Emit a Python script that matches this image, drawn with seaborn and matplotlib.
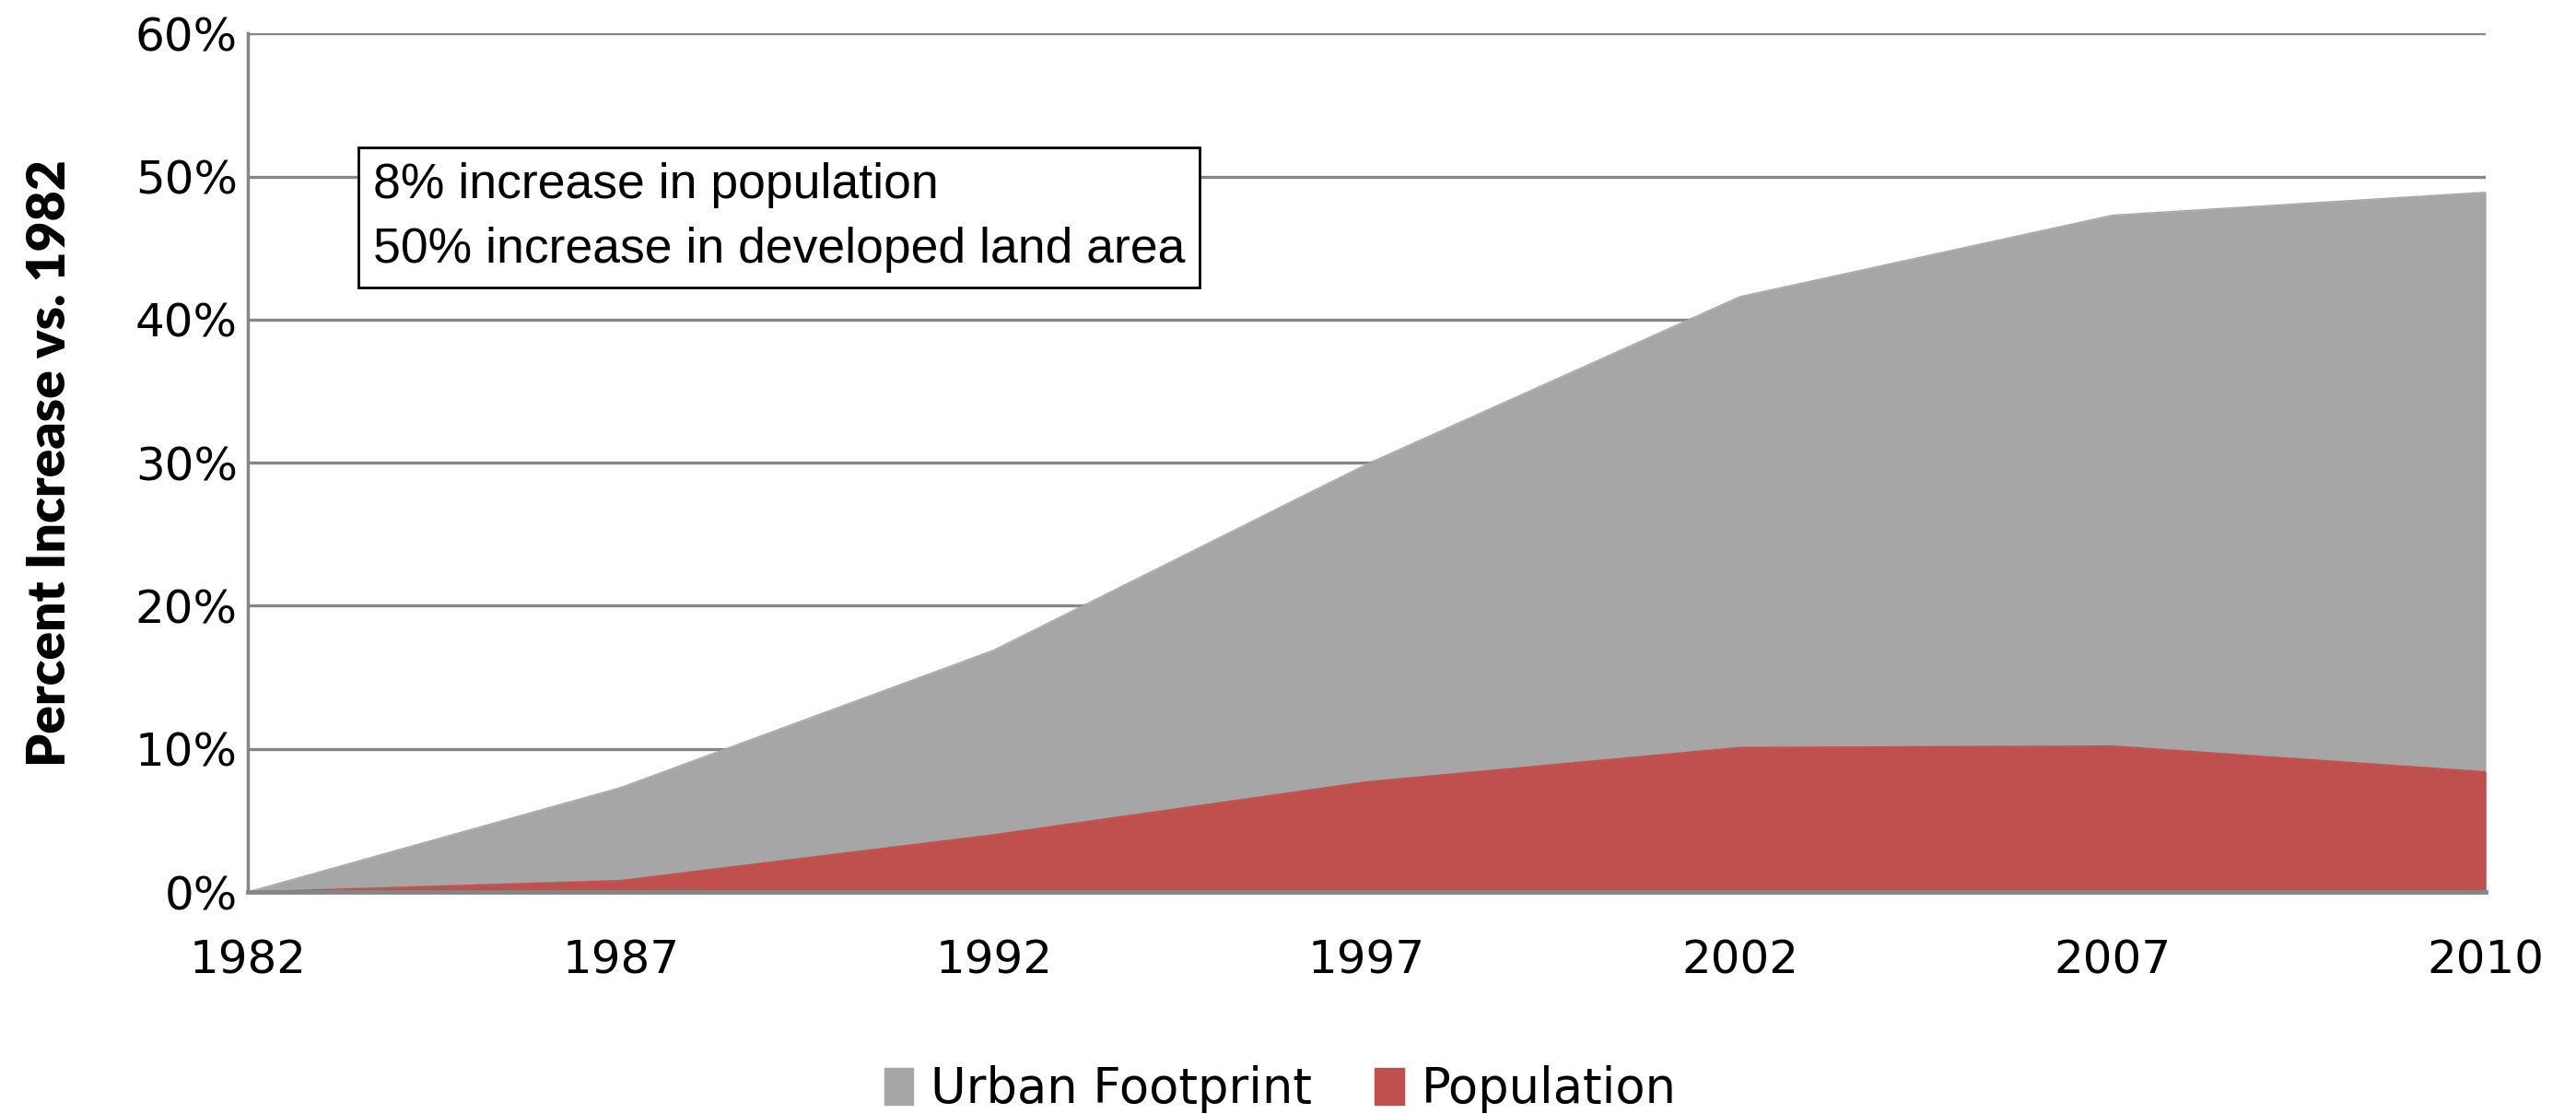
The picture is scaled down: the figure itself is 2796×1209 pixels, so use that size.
import matplotlib
matplotlib.use("Agg")
import matplotlib.pyplot as plt
import seaborn as sns
import pandas as pd
from matplotlib.patches import Patch
from matplotlib.ticker import PercentFormatter

years = ["1982", "1987", "1992", "1997", "2002", "2007", "2010"]
urban_footprint = [0.0, 7.3, 16.9, 29.9, 41.6, 47.3, 48.9]
population = [0.0, 0.8, 4.0, 7.7, 10.1, 10.2, 8.4]
y_ticks = [0, 10, 20, 30, 40, 50, 60]
note_lines = ["8% increase in population", "50% increase in developed land area"]

GRAY = "#A6A6A6"
RED = "#C0504D"
GRID = "#868686"

sns.set_theme(style="white")
plt.rcParams["font.family"] = ["DejaVu Sans"]
plt.rcParams["text.color"] = "black"

df = pd.DataFrame({"year": years, "pos": range(len(years)),
                   "Urban Footprint": urban_footprint, "Population": population})

fig = plt.figure(figsize=(27.96, 12.09), dpi=100)
ax = fig.add_axes([0.0962, 0.1993, 0.8688, 0.7707])

for yv in y_ticks[1:]:
    ax.axhline(yv, color=GRID, lw=2.4, zorder=0)

ax.fill_between(df["pos"], 0, df["Urban Footprint"], color=GRAY, lw=0, zorder=1)
ax.fill_between(df["pos"], 0, df["Population"], color=RED, lw=0, zorder=2)
sns.lineplot(data=df, x="pos", y="Urban Footprint", ax=ax, color=GRAY, lw=1, zorder=1)
sns.lineplot(data=df, x="pos", y="Population", ax=ax, color=RED, lw=1, zorder=2)

ax.set_xlim(0, len(years) - 1)
ax.set_ylim(0, 60)
ax.set_xticks(list(df["pos"]))
ax.set_xticklabels(years)
ax.set_yticks(y_ticks)
ax.yaxis.set_major_formatter(PercentFormatter(decimals=0))
ax.tick_params(axis="both", length=0, labelsize=36, colors="black")
ax.tick_params(axis="x", pad=36)
ax.tick_params(axis="y", pad=8)
ax.set_xlabel("")
ax.set_ylabel("Percent Increase vs. 1982", fontsize=41, fontweight="heavy",
              family=["Lato", "DejaVu Sans"], labelpad=48, color="black")

for s in ["top", "right"]:
    ax.spines[s].set_visible(False)
ax.spines["left"].set_color(GRID)
ax.spines["left"].set_linewidth(2.5)
ax.spines["bottom"].set_color(GRID)
ax.spines["bottom"].set_linewidth(3.5)
ax.spines["bottom"].set_zorder(3)

ax.text(0.056, 0.85, "\n".join(note_lines), transform=ax.transAxes,
        fontsize=38.5, family=["Liberation Sans", "DejaVu Sans"], va="top", ha="left",
        linespacing=1.5, zorder=5, color="black",
        bbox=dict(boxstyle="square,pad=0.3", facecolor="white", edgecolor="black", lw=2))

handles = [Patch(color=GRAY, label="Urban Footprint"), Patch(color=RED, label="Population")]
fig.legend(handles=handles, loc="center", bbox_to_anchor=(0.497, 0.022), ncol=2,
           frameon=False, fontsize=38, handlelength=0.6, handleheight=0.8,
           handletextpad=0.35, columnspacing=1.3)

fig.savefig("out.png", dpi=100)
